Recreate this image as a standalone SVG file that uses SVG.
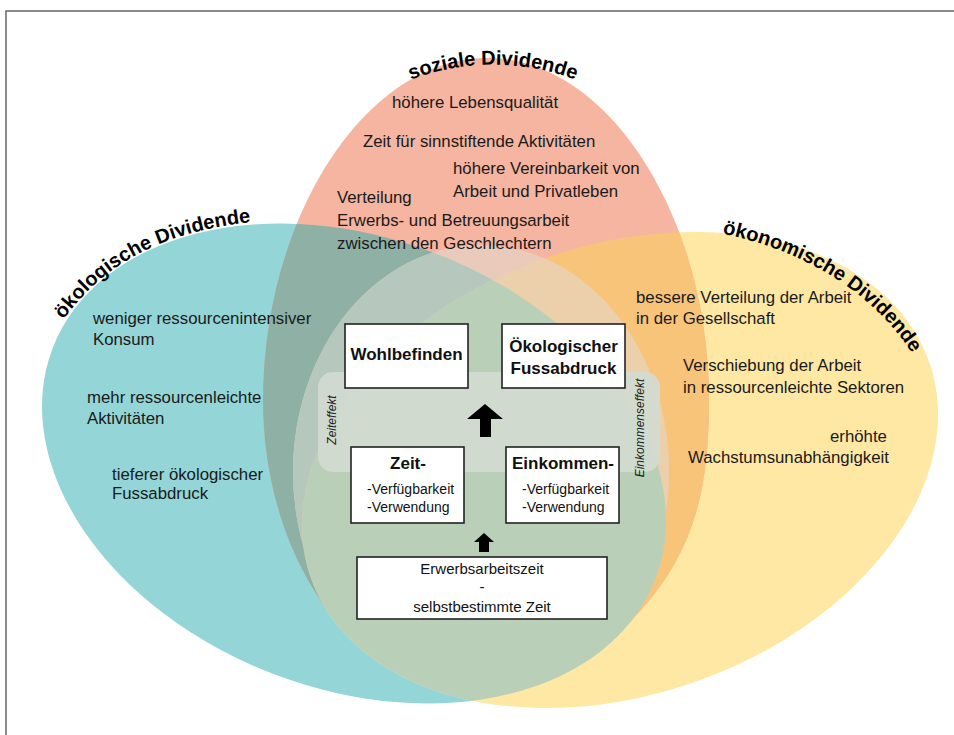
<svg xmlns="http://www.w3.org/2000/svg" xmlns:xlink="http://www.w3.org/1999/xlink" width="954" height="735" viewBox="0 0 954 735">
<style>
.t{font-family:"Liberation Sans",Arial,sans-serif;font-size:16.8px;fill:#1a1a1a}
.title{font-family:"Liberation Sans",Arial,sans-serif;font-size:20px;font-weight:bold;fill:#000}
.bx{fill:#fff;stroke:#222;stroke-width:1.6}
.bt{font-family:"Liberation Sans",Arial,sans-serif;font-size:17px;font-weight:bold;fill:#111;text-anchor:middle}
.st{font-family:"Liberation Sans",Arial,sans-serif;font-size:14px;fill:#111}
.et{font-family:"Liberation Sans",Arial,sans-serif;font-size:15px;fill:#111;text-anchor:middle}
.it{font-family:"Liberation Sans",Arial,sans-serif;font-size:12px;font-style:italic;fill:#222;text-anchor:middle}
.arr{fill:#000}
</style>
<defs>
<ellipse id="eT" cx="354" cy="463.5" rx="322.7" ry="225.4" transform="rotate(20.9 354 463.5)"/>
<ellipse id="eY" cx="620" cy="470" rx="327.5" ry="224.8" transform="rotate(-19.2 620 470)"/>
<path id="eS" d="M487 58 C610 58 709 220 709 400 C709 505 688 565 622 630 L480 665 L350 638 C292 575 263 490 263 400 C263 220 364 58 487 58 Z"/>
<ellipse id="eW" cx="481" cy="472" rx="188" ry="227"/>
<clipPath id="cT"><use xlink:href="#eT"/></clipPath>
<clipPath id="cY"><use xlink:href="#eY"/></clipPath>
<clipPath id="cS"><use xlink:href="#eS"/></clipPath>
<clipPath id="cW"><use xlink:href="#eW"/></clipPath>
<path id="pSoz" d="M398 85 A232 232 0 0 1 588 85"/>
<path id="pOek" d="M51 339 C97 261 169 227 274 220"/>
<path id="pEco" d="M709 231 C791 245 875 287 919 365"/>
</defs>

<rect x="6" y="11" width="970" height="760" fill="#fff" stroke="#666" stroke-width="1.5"/>

<g id="venn">
<use xlink:href="#eT" fill="#94d5d7"/>
<use xlink:href="#eY" fill="#fee8a4"/>
<use xlink:href="#eS" fill="#f5b5a1"/>
<g clip-path="url(#cS)"><use xlink:href="#eT" fill="#8fb0a5"/></g>
<g clip-path="url(#cS)"><use xlink:href="#eY" fill="#f8c47a"/></g>
<g clip-path="url(#cS)"><use xlink:href="#eW" fill="#eacbbb"/></g>
<g clip-path="url(#cS)"><g clip-path="url(#cW)"><use xlink:href="#eT" fill="#b6c8be"/></g></g>
<g clip-path="url(#cS)"><g clip-path="url(#cW)"><use xlink:href="#eY" fill="#eccfab"/></g></g>
<g clip-path="url(#cY)"><use xlink:href="#eT" fill="#bacfb8"/></g>
<rect x="318" y="372" width="342" height="100" rx="15" fill="#d3dad2" opacity="0.9"/>
</g>

<g id="soziale">
<text class="title"><textPath xlink:href="#pSoz" startOffset="50%" text-anchor="middle">soziale Dividende</textPath></text>
<text class="t" x="392" y="108">höhere Lebensqualität</text>
<text class="t" x="363" y="147">Zeit für sinnstiftende Aktivitäten</text>
<text class="t" x="453" y="174">höhere Vereinbarkeit von</text>
<text class="t" x="453" y="197">Arbeit und Privatleben</text>
<text class="t" x="337" y="203">Verteilung</text>
<text class="t" x="337" y="226">Erwerbs- und Betreuungsarbeit</text>
<text class="t" x="337" y="249">zwischen den Geschlechtern</text>
</g>

<g id="oekologische">
<text class="title"><textPath xlink:href="#pOek" startOffset="50%" text-anchor="middle">ökologische Dividende</textPath></text>
<text class="t" x="93" y="324">weniger ressourcenintensiver</text>
<text class="t" x="93" y="345">Konsum</text>
<text class="t" x="87" y="403">mehr ressourcenleichte</text>
<text class="t" x="87" y="424">Aktivitäten</text>
<text class="t" x="112" y="480">tieferer ökologischer</text>
<text class="t" x="112" y="499">Fussabdruck</text>
</g>

<g id="oekonomische">
<text class="title"><textPath xlink:href="#pEco" startOffset="50%" text-anchor="middle">ökonomische Dividende</textPath></text>
<text class="t" x="636" y="303">bessere Verteilung der Arbeit</text>
<text class="t" x="636" y="324">in der Gesellschaft</text>
<text class="t" x="683" y="371">Verschiebung der Arbeit</text>
<text class="t" x="683" y="393">in ressourcenleichte Sektoren</text>
<text class="t" x="830" y="442">erhöhte</text>
<text class="t" x="688" y="463">Wachstumsunabhängigkeit</text>
</g>

<g id="effekte">
<text class="it" transform="translate(336 420) rotate(-90)">Zeiteffekt</text>
<text class="it" transform="translate(644 428) rotate(-90)">Einkommenseffekt</text>
</g>

<g id="wohlbefinden">
<rect class="bx" x="345" y="324" width="123" height="64"/>
<text class="bt" x="406.5" y="360">Wohlbefinden</text>
</g>

<g id="fussabdruck">
<rect class="bx" x="502" y="324" width="123" height="64"/>
<text class="bt" x="563.5" y="352">Ökologischer</text>
<text class="bt" x="563.5" y="374">Fussabdruck</text>
</g>

<g id="zeit">
<rect class="bx" x="351" y="447" width="113" height="76"/>
<text class="bt" x="408" y="469">Zeit-</text>
<text class="st" x="367" y="494">-Verfügbarkeit</text>
<text class="st" x="367" y="512">-Verwendung</text>
</g>

<g id="einkommen">
<rect class="bx" x="506" y="447" width="113" height="76"/>
<text class="bt" x="563" y="469">Einkommen-</text>
<text class="st" x="522" y="494">-Verfügbarkeit</text>
<text class="st" x="522" y="512">-Verwendung</text>
</g>

<g id="erwerbsarbeitszeit">
<rect class="bx" x="357" y="557" width="250" height="62"/>
<text class="et" x="482" y="574">Erwerbsarbeitszeit</text>
<text class="et" x="482" y="592">-</text>
<text class="et" x="482" y="612">selbstbestimmte Zeit</text>
</g>

<g id="connectors">
<path class="arr" d="M485 404 L503 419 L491 419 L491 437 L480 437 L480 419 L467 419 Z"/>
<path class="arr" d="M484 533 L494 542 L489 542 L489 552 L479 552 L479 542 L474 542 Z"/>
</g>
</svg>
